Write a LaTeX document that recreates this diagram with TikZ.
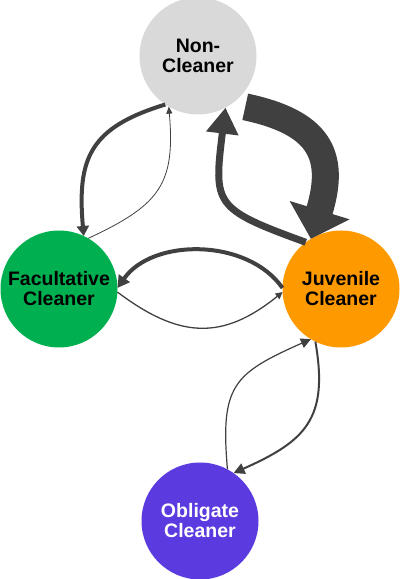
\documentclass[tikz,border=0pt]{standalone}
\usepackage{xcolor}
\usepackage{fontspec}
\setsansfont{Liberation Sans}
\usepackage{tikz}
\usetikzlibrary{arrows.meta}
\definecolor{noncol}{HTML}{D9D9D9}
\definecolor{faccol}{HTML}{00B050}
\definecolor{juvcol}{HTML}{FF9900}
\definecolor{oblcol}{HTML}{5B3AE0}
\definecolor{arrcol}{HTML}{404040}
\tikzset{
  cleaner/.style={circle, minimum size=117pt, inner sep=0pt, outer sep=0pt, align=center,
    font=\sffamily\bfseries\fontsize{19.5}{20}\selectfont},
  flow/.style={draw=arrcol, line join=miter},
}
\begin{document}
\begin{tikzpicture}[x=1pt,y=1pt]
\useasboundingbox (0,0) rectangle (400,579);
\node [cleaner, fill=noncol] (non) at (198,523) {Non-\\Cleaner};
\node [cleaner, fill=faccol] (fac) at (59,290) {Facultative\\Cleaner};
\node [cleaner, fill=juvcol] (juv) at (341,290) {Juvenile\\Cleaner};
\node [cleaner, fill=oblcol, text=white] (obl) at (200,58) {Obligate\\Cleaner};
\draw [flow, line width=4pt, -{Triangle[width=12pt,length=10pt]}] (non.236) to[out=197, in=95, looseness=1.3] (fac.65);
\draw [flow, line width=0.8pt, -{Triangle[width=6pt,length=7pt]}] (fac.60) to[out=25, in=275, looseness=1.3] (non.240);
\draw [flow, line width=27pt, shorten <=14pt, -{Triangle[width=61pt,length=30pt]}] (non.305) to[out=-12, in=73, looseness=1.45] (juv.121);
\draw [flow, line width=7pt, -{Triangle[width=31pt,length=26pt]}] (juv.127) to[out=160, in=263, looseness=1.6] (non.298);
\draw [flow, line width=4pt, -{Triangle[width=13pt,length=12pt]}] (juv.179) to[out=125, in=55, looseness=0.95] (fac.1);
\draw [flow, line width=1.3pt, -{Triangle[width=7pt,length=7pt]}] (fac.-3) to[out=-37, in=219, looseness=1.2] (juv.183);
\draw [flow, line width=1.2pt, -{Triangle[width=10pt,length=10pt]}] (obl.62) to[out=95, in=204, looseness=1.4] (juv.239);
\draw [flow, line width=2pt, -{Triangle[width=11pt,length=11pt]}] (juv.244) to[out=-80, in=24, looseness=1.3] (obl.55);
\end{tikzpicture}
\end{document}
